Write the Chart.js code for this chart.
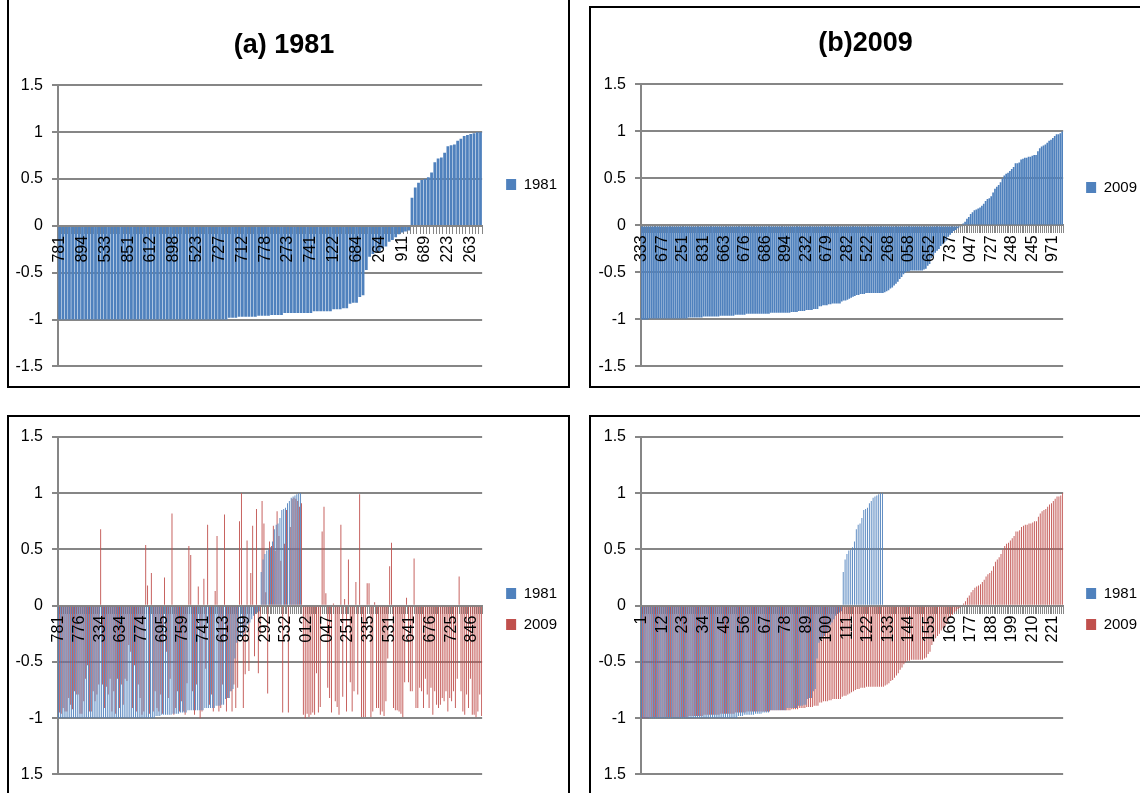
<!DOCTYPE html>
<html>
<head>
<meta charset="utf-8">
<script src="https://cdn.jsdelivr.net/npm/chart.js@4.4.0/dist/chart.umd.min.js"></script>
<style>
  body { margin: 0; background: #fff; width: 1140px; height: 793px; overflow: hidden; position: relative; }
  .frame { position: absolute; border: 2px solid #000; box-sizing: border-box; }
  canvas { position: absolute; }
</style>
</head>
<body>
<div class="frame" style="left:7px;top:-10px;width:563px;height:398px"></div>
<div class="frame" style="left:589px;top:6px;width:600px;height:382px"></div>
<div class="frame" style="left:7px;top:415px;width:563px;height:400px"></div>
<div class="frame" style="left:589px;top:415px;width:600px;height:400px"></div>

<canvas id="chart1981" width="558" height="385" style="left:9px;top:0px"></canvas>
<canvas id="chart2009" width="560" height="377" style="left:591px;top:8px"></canvas>
<canvas id="chartBoth" width="558" height="376" style="left:9px;top:417px"></canvas>
<canvas id="chartRank" width="560" height="376" style="left:591px;top:417px"></canvas>

<script>
// 1981 values, sorted ascending (130 areas)
const values1981 = [
  -1, -1, -1, -1, -1, -1, -1, -1, -1, -1,
  -1, -1, -1, -1, -1, -1, -1, -1, -1, -1,
  -1, -1, -1, -1, -1, -1, -1, -1, -1, -1,
  -1, -1, -1, -1, -1, -1, -1, -1, -1, -1,
  -1, -1, -1, -1, -1, -1, -1, -1, -1, -1,
  -1, -1,
  -0.98, -0.98, -0.98, -0.97, -0.97, -0.97, -0.97, -0.97, -0.97, -0.96,
  -0.96, -0.96, -0.96, -0.95, -0.95, -0.95, -0.95,
  -0.93, -0.93, -0.93, -0.93, -0.93, -0.93, -0.93, -0.93, -0.93,
  -0.91, -0.91, -0.91, -0.91, -0.91, -0.91,
  -0.89, -0.89, -0.89, -0.88, -0.88,
  -0.83, -0.82, -0.82, -0.76, -0.74,
  -0.47, -0.33, -0.30, -0.28, -0.27, -0.24, -0.22, -0.17, -0.15, -0.12,
  -0.09, -0.07, -0.06, -0.05,
  0.30, 0.41, 0.46, 0.49, 0.50, 0.52, 0.57, 0.68, 0.72, 0.73,
  0.78, 0.85, 0.86, 0.87, 0.91, 0.93, 0.96, 0.97, 0.98, 0.99,
  1.00, 1.00
];

// 2009 values, sorted ascending (226 areas)
const values2009 = [
  -1, -1, -1, -1, -0.99, -0.99, -0.99, -0.99, -0.99, -0.99,
  -0.99, -0.99, -0.99, -0.99, -0.99, -0.99, -0.99, -0.99, -0.99, -0.99,
  -0.99, -0.99, -0.99, -0.99, -0.99,
  -0.98, -0.98, -0.98, -0.98, -0.98, -0.98, -0.98, -0.98,
  -0.97, -0.97, -0.97, -0.97, -0.97, -0.97, -0.97, -0.97, -0.97,
  -0.96, -0.96, -0.96, -0.96, -0.96, -0.96, -0.96, -0.96,
  -0.95, -0.95, -0.95, -0.95, -0.95, -0.95,
  -0.94, -0.94, -0.94, -0.94, -0.94, -0.94, -0.94, -0.94, -0.94, -0.94, -0.94, -0.94, -0.94,
  -0.93, -0.93, -0.93, -0.93, -0.93, -0.93, -0.93, -0.93, -0.93, -0.93, -0.93,
  -0.92, -0.92, -0.92, -0.92, -0.91, -0.91, -0.91, -0.91,
  -0.90, -0.90, -0.90, -0.90, -0.89, -0.89, -0.89,
  -0.86, -0.86, -0.85, -0.85, -0.85, -0.84,
  -0.84, -0.83, -0.83, -0.83, -0.83, -0.83,
  -0.81, -0.80, -0.80, -0.79, -0.78, -0.77,
  -0.76, -0.75, -0.74, -0.74, -0.73, -0.73, -0.73,
  -0.72, -0.72, -0.72, -0.72, -0.72, -0.72, -0.72, -0.72, -0.72, -0.72,
  -0.71, -0.70, -0.69,
  -0.67, -0.66, -0.64, -0.62, -0.60,
  -0.57, -0.55, -0.52, -0.50,
  -0.49, -0.49, -0.48, -0.48, -0.48, -0.48, -0.48, -0.48, -0.48,
  -0.47, -0.46, -0.43, -0.41,
  -0.35, -0.32, -0.29, -0.27,
  -0.25, -0.22, -0.20, -0.18, -0.16,
  -0.12, -0.10, -0.08, -0.06, -0.05,
  -0.03, -0.02, -0.01,
  0.02, 0.04, 0.07, 0.09, 0.12, 0.14, 0.16, 0.17, 0.18, 0.19,
  0.21, 0.23, 0.26, 0.28, 0.29, 0.31, 0.35, 0.39, 0.41, 0.43,
  0.46, 0.50, 0.53, 0.55, 0.56, 0.58, 0.60, 0.62, 0.66, 0.66,
  0.67, 0.70, 0.71, 0.72, 0.72, 0.73, 0.73, 0.74, 0.75, 0.75,
  0.79, 0.82, 0.84, 0.85, 0.86, 0.88, 0.90, 0.91, 0.93, 0.95,
  0.97, 0.97, 0.98, 1.00
];

// 2009 values of the same areas, in the 1981 order (226 areas)
const values2009By1981 = [
  -0.95, -0.96, -0.91, -0.94, -0.94, -0.82, -0.88, -0.92, -0.76, -0.79,
  -0.79, -0.96, -0.96, -0.85, -0.65, -0.53, -0.94, -0.94, -0.76, -0.85,
  -0.79, -0.70, 0.68, -0.70, -0.91, -0.72, -0.79, -0.65, -0.94, -0.76,
  -0.96, -0.65, -0.91, -0.70, -0.88, -0.65, -0.67, -0.35, -0.41, -0.91,
  -0.53, -0.94, -0.70, -0.82, -0.97, -0.94, 0.54, 0.18, -0.96, 0.29,
  -0.94, -0.76, -0.91, -0.94, -0.79, -0.96, 0.25, -0.41, -0.82, -0.65,
  0.82, -0.97, -0.91, -0.76, -0.94, -0.85, -0.94, -0.97, -0.69, 0.53,
  0.45, -0.76, -0.97, -0.70, 0.17, -1.00, -0.94, 0.24, -0.56, 0.72,
  -0.88, -0.79, -0.94, 0.13, 0.62, -0.94, -0.91, -0.70, 0.81, -0.94,
  -0.82, -0.76, -0.94, -0.70, -0.91, -0.73, 0.75, 1.00, -0.91, -0.61,
  0.58, -0.58, 0.29, 0.71, -0.45, 0.86, -0.60, -0.25, 0.93, 0.73,
  0.12, -0.78, 0.57, 0.53, 0.71, 0.49, 0.84, 0.62, 0.40, -0.95,
  0.55, 0.85, -0.95, 0.70, 0.95, 0.96, 0.95, 0.93, 0.88, 0.91,
  -0.97, -1.00, -0.96, -0.99, -0.97, -0.95, -0.97, -0.60, -0.95, -0.90,
  0.66, 0.88, 0.11, -0.73, -0.82, -0.95, 0.02, -0.85, -0.90, -0.97,
  0.72, -0.81, 0.06, -0.94, 0.41, -0.68, -0.94, -0.76, 0.21, -0.79,
  0.99, -0.99, -0.99, -0.99, 0.20, 0.20, -0.99, -0.94, 0.03, -0.91,
  -0.91, -0.97, -0.94, -0.98, -0.85, -0.47, 0.35, 0.56, -0.91, -0.93,
  -0.93, -0.94, -0.96, -0.99, -0.68, 0.07, -0.68, -0.76, -0.76, 0.42,
  -0.91, -0.91, -0.73, -0.76, -0.91, -0.65, -0.79, -0.91, -0.73, -0.97,
  -0.76, -0.88, -0.91, -0.88, -0.82, -0.85, -0.76, -0.94, -0.82, -0.85,
  -0.76, -0.91, -0.65, 0.26, -0.76, -0.94, -0.97, -0.79, -0.91, -0.65,
  -0.97, -0.97, -0.99, -0.94, -0.79, -0.98
];

// tick labels shown on the category axes (every 7th or 11th category)
const ticks1981 = ['781', '894', '533', '851', '612', '898', '523', '727', '712', '778',
  '273', '741', '122', '684', '264', '911', '689', '223', '263'];
const ticks2009 = ['333', '677', '251', '831', '663', '676', '686', '894', '232', '679',
  '282', '522', '268', '058', '652', '737', '047', '727', '248', '245', '971'];
const ticksBoth = ['781', '776', '334', '634', '774', '695', '759', '741', '613', '899',
  '292', '532', '012', '047', '251', '335', '531', '641', '676', '725', '846'];
const ticksRank = ['1', '12', '23', '34', '45', '56', '67', '78', '89', '100',
  '111', '122', '133', '144', '155', '166', '177', '188', '199', '210', '221'];

const BLUE = '#4F81BD';
const RED = '#C0504D';
const GREY = '#868686';
const SANS = "'Liberation Sans', Arial, sans-serif";

function tickLabels(ticks, step, count) {
  return Array.from({ length: count }, (_, i) => (i % step === 0 && ticks[i / step]) || '');
}

// Excel puts the legend a little further from the plot than Chart.js does
const legendNudge = {
  id: 'legendNudge',
  afterLayout(chart, args, opts) {
    chart.legend.left += opts.shift;
    chart.legend.right += opts.shift;
  }
};

function makeChart(id, cfg) {
  return new Chart(document.getElementById(id), {
    type: 'bar',
    data: { labels: cfg.labels, datasets: cfg.datasets },
    options: {
      responsive: false,
      animation: false,
      layout: { padding: cfg.padding },
      datasets: { bar: { barPercentage: 1, categoryPercentage: cfg.catPct } },
      plugins: {
        title: {
          display: !!cfg.title,
          text: cfg.title,
          color: '#000',
          font: { family: SANS, size: 27, weight: 'bold' },
          padding: cfg.titlePadding
        },
        legend: {
          position: 'right',
          labels: {
            color: '#000',
            font: { family: SANS, size: 15 },
            boxWidth: 10,
            boxHeight: 11,
            padding: 16
          }
        },
        legendNudge: { shift: cfg.legendShift },
        tooltip: { enabled: false }
      },
      scales: {
        x: {
          position: { y: 0 },
          grid: { drawOnChartArea: false, drawTicks: true, tickLength: 7, color: GREY, lineWidth: 1 },
          border: { color: GREY, width: 2 },
          ticks: {
            autoSkip: false,
            minRotation: 90,
            maxRotation: 90,
            padding: 3,
            color: '#000',
            font: { family: SANS, size: 16 },
            z: 1
          }
        },
        y: {
          min: -1.5,
          max: 1.5,
          afterFit: (scale) => { scale.width = cfg.axisWidth; },
          grid: { color: GREY, lineWidth: 2, tickLength: 6 },
          border: { color: GREY, width: 2 },
          ticks: {
            stepSize: 0.5,
            padding: 9,
            color: '#000',
            font: { family: SANS, size: 16 },
            callback: (v) => (cfg.cutMinus && v === -1.5) ? '1.5' : String(v)
          }
        }
      }
    },
    plugins: [legendNudge]
  });
}

makeChart('chart1981', {
  title: '(a) 1981',
  titlePadding: { top: 29, bottom: 24 },
  labels: tickLabels(ticks1981, 7, values1981.length),
  datasets: [{ label: '1981', data: values1981, backgroundColor: BLUE }],
  catPct: 0.85,
  axisWidth: 49,
  legendShift: 8,
  padding: { left: 0, right: 8, top: 0, bottom: 16 }
});

makeChart('chart2009', {
  title: '(b)2009',
  titlePadding: { top: 19, bottom: 25 },
  labels: tickLabels(ticks2009, 11, values2009.length),
  datasets: [{ label: '2009', data: values2009, backgroundColor: BLUE }],
  catPct: 0.9,
  axisWidth: 50,
  legendShift: 7,
  padding: { left: 0, right: 11, top: 0, bottom: 18 }
});

makeChart('chartBoth', {
  labels: tickLabels(ticksBoth, 11, values2009By1981.length),
  datasets: [
    { label: '1981', data: values1981, backgroundColor: BLUE },
    { label: '2009', data: values2009By1981, backgroundColor: RED }
  ],
  catPct: 0.95,
  axisWidth: 49,
  cutMinus: true,
  legendShift: 8,
  padding: { left: 0, right: 8, top: 20, bottom: 12 }
});

makeChart('chartRank', {
  labels: tickLabels(ticksRank, 11, values2009.length),
  datasets: [
    { label: '1981', data: values1981, backgroundColor: BLUE },
    { label: '2009', data: values2009, backgroundColor: RED }
  ],
  catPct: 0.95,
  axisWidth: 50,
  cutMinus: true,
  legendShift: 7,
  padding: { left: 0, right: 11, top: 20, bottom: 12 }
});
</script>
</body>
</html>
